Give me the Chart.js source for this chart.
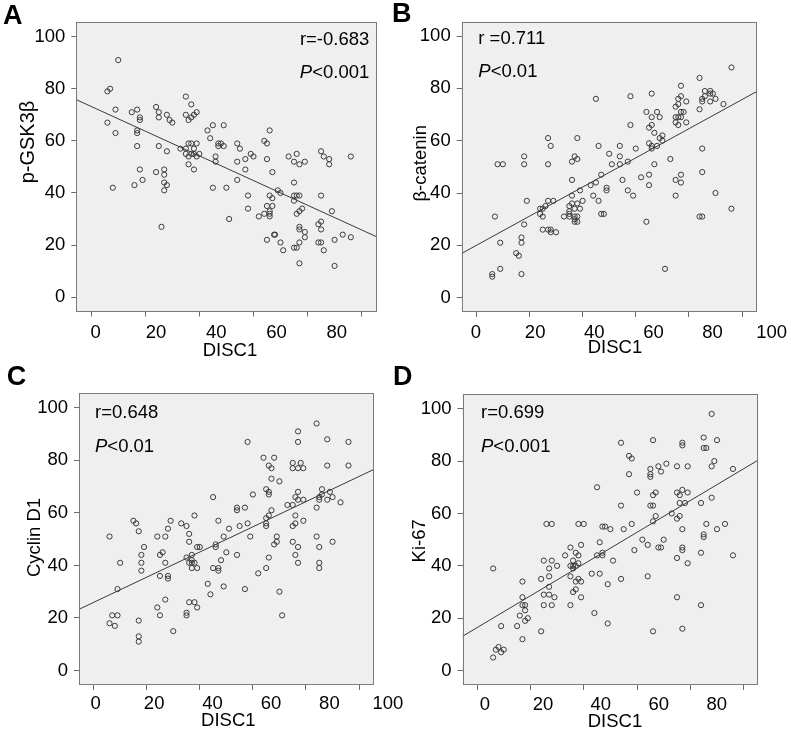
<!DOCTYPE html>
<html><head><meta charset="utf-8">
<script src="https://cdn.jsdelivr.net/npm/chart.js@4.4.1/dist/chart.umd.min.js"></script>
<style>
html,body{margin:0;padding:0;background:#fff;}
#wrap{position:relative;width:791px;height:737px;overflow:hidden;background:#fff;}
#wrap canvas{position:absolute;left:0;top:0;}
</style></head><body>
<div id="wrap">
<canvas id="cA" width="791" height="737"></canvas>
<canvas id="cB" width="791" height="737"></canvas>
<canvas id="cC" width="791" height="737"></canvas>
<canvas id="cD" width="791" height="737"></canvas>
</div>
<script>
// ---------------- data ----------------
const axisTicks = [0, 20, 40, 60, 80, 100];
const xLabelsA = [0, 20, 40, 60, 80];
const xLabelsB = [0, 20, 40, 60, 80, 100];
const xLabelsC = [0, 20, 40, 60, 80, 100];
const xLabelsD = [0, 20, 40, 60, 80];

// Panel A: DISC1 vs p-GSK3beta
const discA = [10,6,7,9,6,9,8,15,17,18,18,17,17,17,18,19,16,24,25,25,28,29,30,25,28,24,27,27,27,28,27,26,33,35,37,35,36,37,38,39,36,37,39,35,38,35,37,38,40,36,39,36,38,43,45,44,47,48,47,49,49,46,46,45,50,51,54,55,54,54,57,57,59,60,58,58,62,64,65,66,65,67,64,65,66,66,66,66,67,67,65,68,67.6,69,70,70,71,73,75,76,77,79,75,75,76,77,75,78,77,76,77,77,79,79,77,75,76,77,85,86,88,88,85,89,84,85,85,84,85,86,90,90,93,96,96];
const gskA  = [91,79,80,72,67,63,42,71,72,69,68,64,63,58,49,45,43,73,71,69,70,68,67,58,56,48,49,47,44,43,41,27,57,77,74,70,68,69,70,71,59,59,59,57,57,55,55,55,55,54,54,51,49,64,66,61,59,59,58,58,66,54,52,42,42,30,59,57,52,45,53,49,55,54,39,34,31,60,59,64,53,48,32,35,39,33,32,31,38,35,22,24,24,41,40,21,18,54,52,55,51,52,44,39,39,39,37,34,33,32,27,26,25,23,21,19,19,13,56,54,53,51,39,33,28,29,26,21,21,18,22,12,24,23,54];

// Panel B: DISC1 vs beta-catenin
const discB = [6,6,7,8,10,9,9,15,16,17,17,17,18,18,18,19,24,25,24,25,26,27,29,25,27,28,28,30,27,28,27,33,35,35,35,35,36,36,36,36,37,38,38,37,38,39,37,38,37,37,38,39,40,43,44,45,46,45,46,47,47,48,49,49,50,51,54,54,54,55,57,57,58,58,59,60,62,64,64,65,65,65,65,66,66,66,66,66,67,67,68,68,69,69,70,70,71,73,75,75,75,75,75,76,76,76,77,77,77,77,77,77,78,79,79,76,84,84,85,85,86,86,88,88,89,88,90,93,85,85,84,85,90,96,96];
const cateninB = [9,8,31,51,51,21,11,17,16,23,21,9,28,54,51,37,34,34,32,31,35,37,37,26,26,26,25,25,61,58,51,31,35,33,32,31,36,39,45,52,54,53,61,34,36,34,31,31,30,29,29,41,37,43,39,44,37,76,58,47,32,32,42,41,55,51,58,54,51,45,52,41,77,66,39,57,46,71,29,65,59,47,43,78,69,66,58,57,63,51,71,58,69,61,60,62,11,53,39,45,73,69,67,76,69,66,81,77,71,69,47,44,71,75,67,74,84,72,76,75,77,79,79,78,78,75,76,74,57,48,31,31,40,88,34];

// Panel C: DISC1 vs Cyclin D1
const discC = [6,6,7,9,8,9,10,15,16,17,18,18,18,19,17,17,17,24,25,26,25,27,27,28,28,28,29,27,24,25,30,33,35,36,36,35,37,37,36,37,38,37,38,39,40,39,36,38,35,35,39,45,43,44,45,46,46,47,47,47,48,49,49,50,51,54,54,54,55,57,57,58,58,59,60,62,64,65,65,65,65,65,66,67,66,66,67,66,66,67,68,68,69,69,70,70,71,73,75,75,75,75,75,76,76,76,76,77,77,77,77,77,77,77,78,79,79,79,84,84,84,85,85,86,86,85,85,85,88,88,88,89,90,90,93,96,96];
const cyclinC = [51,18,21,21,17,31,41,57,56,53,44,41,38,47,19,13,11,51,44,45,36,51,41,36,35,54,57,27,24,21,15,56,55,52,49,43,44,42,41,41,41,39,59,47,47,39,26,26,22,21,24,66,33,29,39,48,47,57,39,38,42,51,32,45,54,62,61,44,55,62,31,87,56,51,67,37,81,58,56,55,69,39,78,77,68,67,73,59,43,61,81,48,49,51,72,30,21,63,63,55,49,79,77,66,59,56,44,91,87,77,68,65,47,41,79,77,65,57,94,62,51,66,65,67,69,47,41,39,88,78,65,68,66,49,64,87,78];

// Panel D: DISC1 vs Ki-67
const discD = [6,7,8,9,10,6,9,15,16,17,17,17,17,18,18,18,19,24,24,25,25,25,26,28,27,27,27,27,28,29,28,30,33,35,35,35,35,36,36,36,37,37,37,37,38,38,38,39,39,39,38,40,36,43,44,45,45,46,46,47,48,47,47,49,49,50,51,54,54,54,55,57,58,57,58,59,60,62,64,64,65,65,65,65,66,66,66,66,66,67,67,68,68,69,69,70,71,73,75,75,75,75,75,76,76,76,77,77,77,77,77,77,77,78,79,79,79,84,84,84,85,85,86,85,85,86,88,88,88,89,90,90,93,96,96];
const ki67D = [5,8,9,7,8,39,17,17,21,12,34,28,25,25,23,19,20,15,35,42,29,25,56,56,39,36,32,29,42,28,25,40,44,47,40,36,25,42,39,30,45,40,34,31,44,41,35,48,34,28,56,56,40,37,22,70,44,49,37,55,55,45,44,33,18,54,42,87,63,35,54,82,81,75,56,46,68,50,48,36,77,75,74,63,63,88,67,57,15,68,59,78,47,47,76,50,79,60,78,68,58,43,28,67,64,59,87,86,69,54,47,46,16,64,78,68,41,64,45,25,89,85,85,52,51,56,98,78,66,80,88,54,56,77,44];

// regression line values at the left and right ends of the axis range
const fitA = [75.8, 23.2];
const fitB = [16.9, 78.8];
const fitC = [23.3, 76.5];
const fitD = [13.1, 80.4];

const statsA = ['r=-0.683', '<0.001'];
const statsB = ['r =0.711', '<0.01'];
const statsC = ['r=0.648', '<0.01'];
const statsD = ['r=0.699', '<0.001'];

// ---------------- drawing ----------------
const FONT = "'Liberation Sans', Arial, Helvetica, sans-serif";
const AX_MIN = -5.5, AX_MAX = 105.5;
const W = 791, H = 737;

const framePlugin = {
  id: 'frame',
  beforeDraw(chart) {
    const {ctx, chartArea: a} = chart;
    ctx.save();
    ctx.fillStyle = '#efefef';
    ctx.fillRect(a.left, a.top, a.right - a.left, a.bottom - a.top);
    ctx.restore();
  },
  afterDraw(chart) {
    const {ctx, chartArea: a} = chart;
    ctx.save();
    ctx.strokeStyle = '#7a7a7a';
    ctx.lineWidth = 1;
    const l = Math.round(a.left) + 0.5, t = Math.round(a.top) + 0.5;
    const r = Math.round(a.right) - 0.5, b = Math.round(a.bottom) - 0.5;
    ctx.strokeRect(l, t, r - l, b - t);
    ctx.restore();
  }
};

const annotPlugin = {
  id: 'annot',
  afterDraw(chart, args, opts) {
    const ctx = chart.ctx;
    (opts.items || []).forEach(it => {
      ctx.save();
      ctx.fillStyle = '#000';
      ctx.textBaseline = 'middle';
      const size = it.size || 18.5;
      const parts = it.parts || [{t: it.text}];
      const fontOf = p => (p.italic ? 'italic ' : '') + (it.bold ? 'bold ' : '') + size + 'px ' + FONT;
      let total = 0;
      parts.forEach(p => { ctx.font = fontOf(p); p.w = ctx.measureText(p.t).width; total += p.w; });
      ctx.translate(it.x, it.y);
      if (it.rotate) ctx.rotate(it.rotate);
      let sx = it.align === 'right' ? -total : (it.align === 'center' ? -total / 2 : 0);
      ctx.textAlign = 'left';
      parts.forEach(p => { ctx.font = fontOf(p); ctx.fillText(p.t, sx, 0); sx += p.w; });
      ctx.restore();
    });
  }
};

function makePanel(id, p) {
  const pts = p.xs.map((x, i) => ({x: x, y: p.ys[i]}));
  const line = [{x: AX_MIN, y: p.fit[0]}, {x: AX_MAX, y: p.fit[1]}];
  const yAxisW = 60;
  return new Chart(document.getElementById(id), {
    type: 'scatter',
    data: {datasets: [
      {data: pts, xAxisID: 'x', yAxisID: 'y', pointRadius: 2.6, pointHoverRadius: 2.6,
       pointBorderWidth: 1, borderColor: '#3c3c3c', backgroundColor: 'rgba(0,0,0,0)'},
      {data: line, xAxisID: 'x', yAxisID: 'y', showLine: true, pointRadius: 0, pointHoverRadius: 0,
       borderColor: '#3a3a3a', borderWidth: 1, fill: false}
    ]},
    options: {
      responsive: false, animation: false, devicePixelRatio: 1, events: [],
      layout: {padding: {left: p.box.l - yAxisW, right: W - p.box.r, top: p.box.t, bottom: H - p.box.b - 5 - 30}},
      plugins: {legend: {display: false}, tooltip: {enabled: false}, annot: {items: p.texts}},
      scales: {
        x: {type: 'linear', position: 'bottom', weight: 0, min: AX_MIN, max: AX_MAX,
            afterBuildTicks: s => { s.ticks = axisTicks.map(v => ({value: v})); },
            afterFit: s => { s.height = 5; },
            ticks: {display: false},
            grid: {display: true, drawOnChartArea: false, drawTicks: true, tickLength: 5, color: '#6a6a6a', lineWidth: 1},
            border: {display: false}},
        xl: {type: 'linear', axis: 'x', position: 'bottom', weight: 1, min: p.lab.min, max: p.lab.max,
            afterBuildTicks: s => { s.ticks = p.xLabels.map(v => ({value: v})); },
            afterFit: s => { s.height = 30; },
            ticks: {padding: p.lab.pad, autoSkip: false, maxRotation: 0, minRotation: 0,
                    font: {family: FONT, size: 18.5}, color: '#000'},
            grid: {display: false, drawTicks: false, tickLength: 0}, border: {display: false}},
        y: {type: 'linear', position: 'left', min: AX_MIN, max: AX_MAX,
            afterBuildTicks: s => { s.ticks = axisTicks.map(v => ({value: v})); },
            afterFit: s => { s.width = yAxisW; },
            ticks: {padding: 6, font: {family: FONT, size: 18.5}, color: '#000'},
            grid: {display: true, drawOnChartArea: false, drawTicks: true, tickLength: 5, color: '#6a6a6a', lineWidth: 1},
            border: {display: false}}
      }
    },
    plugins: [framePlugin, annotPlugin]
  });
}

function pItem(x, y, rest, align) {
  return {x: x, y: y, align: align, parts: [{t: 'P', italic: true}, {t: rest}]};
}

makePanel('cA', {
  xs: discA, ys: gskA, fit: fitA, xLabels: xLabelsA,
  box: {l: 76.3, r: 376.5, t: 22.3, b: 311.5},
  lab: {min: -6.44, max: 93.21, pad: 5},
  texts: [
    {x: 3, y: 17, text: 'A', bold: true, size: 27},
    {x: 369.3, y: 40, text: statsA[0], align: 'right'},
    pItem(369.3, 72.7, statsA[1], 'right'),
    {x: 230, y: 350.5, text: 'DISC1', align: 'center'},
    {x: 28.7, y: 142, text: 'p-GSK3β', align: 'center', rotate: -Math.PI / 2, size: 20}
  ]
});
makePanel('cB', {
  xs: discB, ys: cateninB, fit: fitB, xLabels: xLabelsB,
  box: {l: 461.7, r: 756.7, t: 21.7, b: 312},
  lab: {min: -4.84, max: 94.92, pad: 4.6},
  texts: [
    {x: 392, y: 15, text: 'B', bold: true, size: 27},
    {x: 478.3, y: 39.3, text: statsB[0], align: 'left'},
    pItem(478.3, 71.7, statsB[1], 'left'),
    {x: 615, y: 348.3, text: 'DISC1', align: 'center'},
    {x: 420.7, y: 163.3, text: 'β-catenin', align: 'center', rotate: -Math.PI / 2}
  ]
});
makePanel('cC', {
  xs: discC, ys: cyclinC, fit: fitC, xLabels: xLabelsC,
  box: {l: 79, r: 373.7, t: 393.3, b: 685},
  lab: {min: -5.72, max: 95.17, pad: 3.2},
  texts: [
    {x: 6.7, y: 378, text: 'C', bold: true, size: 27},
    {x: 95, y: 413.3, text: statsC[0], align: 'left'},
    pItem(95, 446.7, statsC[1], 'left'),
    {x: 228.3, y: 720.5, text: 'DISC1', align: 'center'},
    {x: 35, y: 537.5, text: 'Cyclin D1', align: 'center', rotate: -Math.PI / 2}
  ]
});
makePanel('cD', {
  xs: discD, ys: ki67D, fit: fitD, xLabels: xLabelsD,
  box: {l: 462.5, r: 758.3, t: 394.3, b: 685},
  lab: {min: -7.77, max: 94.37, pad: 4.2},
  texts: [
    {x: 393, y: 378, text: 'D', bold: true, size: 27},
    {x: 481, y: 412.7, text: statsD[0], align: 'left'},
    pItem(481, 446.7, statsD[1], 'left'),
    {x: 615, y: 721.5, text: 'DISC1', align: 'center'},
    {x: 420, y: 540.8, text: 'Ki-67', align: 'center', rotate: -Math.PI / 2}
  ]
});
</script>
</body></html>
